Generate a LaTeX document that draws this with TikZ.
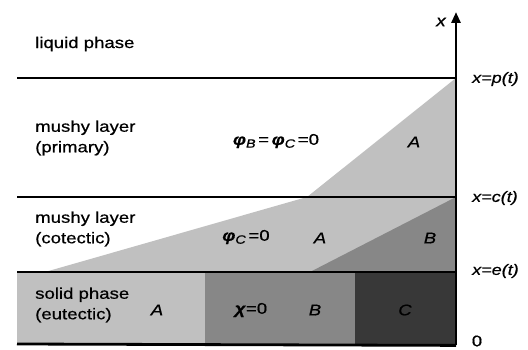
\documentclass[tikz,border=0pt]{standalone}
\usepackage{fontspec}
\setmainfont{Liberation Sans}[FakeStretch=1.2,FakeBold=0.6]
\usetikzlibrary{arrows.meta}
\definecolor{lightg}{HTML}{C0C0C0}
\definecolor{midg}{HTML}{878787}
\definecolor{darkg}{HTML}{383838}
\tikzset{
  bound/.style={line width=2.8pt},
  axisline/.style={line width=2.8pt,-{Triangle[length=11pt,width=9pt]}},
  lbl/.style={inner sep=0pt,anchor=west,align=left},
  ctr/.style={inner sep=0pt},
  rlbl/.style={inner sep=0pt,anchor=west,font=\fontsize{15}{17}\selectfont\itshape},
}
\newcommand{\gsym}[1]{\textbf{\textit{#1}}}
\newcommand{\gsub}[1]{\raisebox{-0.35ex}{\fontsize{12}{12}\selectfont\textit{#1}}}
\begin{document}
\begin{tikzpicture}[x=1pt,y=-1pt,font=\fontsize{15.5}{20.5}\selectfont]
\useasboundingbox (0,0) rectangle (528,350);
% fills
\fill[lightg] (17,272) rectangle (205,344);
\fill[midg] (205,272) rectangle (355,344);
\fill[darkg] (355,272) rectangle (456,344);
\fill[lightg] (45,272) -- (307,197) -- (456,78) -- (456,272) -- cycle;
\fill[midg] (310,272) -- (456,197) -- (456,272) -- cycle;
% coordinates
\coordinate (pL) at (17,78);
\coordinate (pR) at (456,78);
\coordinate (cL) at (17,197);
\coordinate (cR) at (456,197);
\coordinate (eL) at (17,272);
\coordinate (eR) at (456,272);
\coordinate (oL) at (17,344);
\coordinate (O) at (456,345.4);
\coordinate (top) at (456,12);
% boundaries
\draw[bound] (pL) -- (pR);
\draw[bound] (cL) -- (cR);
\draw[bound] (eL) -- (eR);
\draw[bound] (oL) -- (O);
\draw[axisline] (O) -- (top);
% labels left
\node[lbl] (liq) at (35,44) {liquid phase};
\node[lbl] (prim) at (35,138) {mushy layer\\(primary)};
\node[lbl] (cot) at (35,229) {mushy layer\\(cotectic)};
\node[lbl] (sol) at (35,305) {solid phase\\(eutectic)};
% inner labels
\node[ctr] (phiBC) at (276,141) {\gsym{φ}\gsub{B}\,=\,\gsym{φ}\gsub{C}\,=0};
\node[ctr] (Aprim) at (414,142) {\textit{A}};
\node[ctr] (phiC) at (246,237) {\gsym{φ}\gsub{C}\,=0};
\node[ctr] (Acot) at (320,238) {\textit{A}};
\node[ctr] (Bcot) at (430,238) {\textit{B}};
\node[ctr] (Asol) at (157,310) {\textit{A}};
\node[ctr] (chi) at (251,310) {\gsym{χ}=0};
\node[ctr] (Bsol) at (315,310) {\textit{B}};
\node[ctr] (Csol) at (405,310) {\textit{C}};
% right labels
\node[ctr,font=\fontsize{16}{18}\selectfont\itshape] (xlab) at (441,22) {x};
\node[rlbl] (plab) at (472,79) {x=p(t)};
\node[rlbl] (clab) at (472,198) {x=c(t)};
\node[rlbl] (elab) at (472,271) {x=e(t)};
\node[ctr] (zero) at (477,341) {0};
\end{tikzpicture}
\end{document}
